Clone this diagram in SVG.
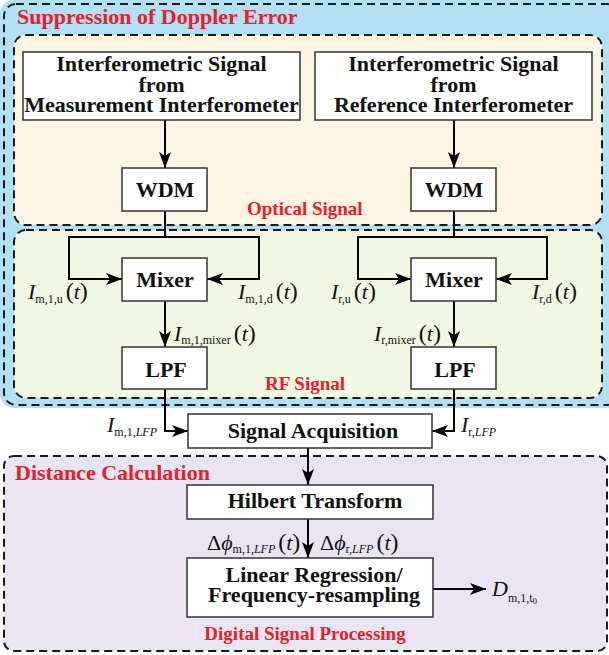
<svg xmlns="http://www.w3.org/2000/svg" width="609" height="655" viewBox="0 0 609 655">
<style>
.bx{fill:#fff;stroke:#333;stroke-width:1.5}
.dash{fill:none;stroke:#1a1a1a;stroke-width:2;stroke-dasharray:8 5}
.ln{fill:none;stroke:#000;stroke-width:2}
.ar{marker-end:url(#ah)}
.bt{font-family:"Liberation Serif","Times New Roman",serif;font-weight:bold;font-size:22px;text-anchor:middle;fill:#111}
.rt{font-family:"Liberation Serif","Times New Roman",serif;font-weight:bold;font-size:19px;fill:#e8202a}
.m{font-family:"Liberation Serif","Times New Roman",serif;font-size:22px;fill:#111}
.it{font-style:italic}
.s{font-size:12px}
.ss{font-size:9px}
.p{font-size:24px}
</style>
<defs>
<marker id="ah" viewBox="0 0 16 12" refX="16" refY="6" markerWidth="16" markerHeight="12" markerUnits="userSpaceOnUse" orient="auto">
<path d="M0,0 L16,6 L0,12 L4,6 z" fill="#000"/>
</marker>
</defs>

<g id="regions">
<rect x="0" y="0" width="625" height="408" rx="14" fill="#b2e0f4"/>
<rect x="4" y="4" width="615" height="401" rx="12" class="dash"/>
<rect x="14" y="35" width="588" height="190" rx="12" fill="#fdf4e3"/>
<rect x="14" y="35" width="588" height="190" rx="12" class="dash"/>
<rect x="14" y="230" width="588" height="168" rx="12" fill="#f3f8e5"/>
<rect x="14" y="230" width="588" height="168" rx="12" class="dash"/>
<rect x="4" y="456" width="603" height="195" rx="10" fill="#ebe4f2"/>
<rect x="4" y="456" width="603" height="195" rx="10" class="dash"/>
<text class="rt" x="17" y="24" style="font-size:22px">Suppression of Doppler Error</text>
<text class="rt" x="247" y="215">Optical Signal</text>
<text class="rt" x="265" y="390">RF Signal</text>
<text class="rt" x="15" y="480" style="font-size:22px">Distance Calculation</text>
<text class="rt" x="305" y="640" text-anchor="middle">Digital Signal Processing</text>
</g>

<g id="connectors">
<line class="ln ar" x1="165" y1="120" x2="165" y2="168"/>
<line class="ln ar" x1="454" y1="120" x2="454" y2="168"/>
<line class="ln" x1="165" y1="211" x2="165" y2="237"/>
<polyline class="ln ar" points="165,237 69,237 69,279 122,279"/>
<polyline class="ln ar" points="165,237 259,237 259,279 207,279"/>
<line class="ln" x1="454" y1="211" x2="454" y2="237"/>
<polyline class="ln ar" points="454,237 358,237 358,279 411,279"/>
<polyline class="ln ar" points="454,237 547,237 547,279 496,279"/>
<line class="ln ar" x1="165" y1="301" x2="165" y2="347"/>
<line class="ln ar" x1="454" y1="301" x2="454" y2="347"/>
<polyline class="ln ar" points="165,389 165,431 188,431"/>
<polyline class="ln ar" points="454,389 454,431 432,431"/>
<line class="ln ar" x1="308" y1="448" x2="308" y2="485"/>
<line class="ln ar" x1="308" y1="519" x2="308" y2="558"/>
<line class="ln ar" x1="432" y1="589" x2="486" y2="589"/>
</g>

<g id="src-meas">
<rect class="bx" x="23" y="52" width="277" height="68"/>
<text class="bt" x="161.5" y="71">Interferometric Signal</text>
<text class="bt" x="161.5" y="92">from</text>
<text class="bt" x="161.5" y="112">Measurement Interferometer</text>
</g>
<g id="src-ref">
<rect class="bx" x="315" y="52" width="277" height="68"/>
<text class="bt" x="453.5" y="71">Interferometric Signal</text>
<text class="bt" x="453.5" y="92">from</text>
<text class="bt" x="453.5" y="112">Reference Interferometer</text>
</g>
<g id="wdm-m">
<rect class="bx" x="122" y="168" width="85" height="43"/>
<text class="bt" x="165" y="197">WDM</text>
</g>
<g id="wdm-r">
<rect class="bx" x="411" y="168" width="85" height="43"/>
<text class="bt" x="454" y="197">WDM</text>
</g>
<g id="mixer-m">
<rect class="bx" x="122" y="258" width="85" height="43"/>
<text class="bt" x="165" y="287">Mixer</text>
</g>
<g id="mixer-r">
<rect class="bx" x="411" y="258" width="85" height="43"/>
<text class="bt" x="454" y="287">Mixer</text>
</g>
<g id="lpf-m">
<rect class="bx" x="122" y="347" width="85" height="42"/>
<text class="bt" x="166" y="377">LPF</text>
</g>
<g id="lpf-r">
<rect class="bx" x="411" y="347" width="85" height="42"/>
<text class="bt" x="455" y="377">LPF</text>
</g>
<g id="acq">
<rect class="bx" x="188" y="414" width="244" height="34"/>
<text class="bt" x="313" y="438">Signal Acquisition</text>
</g>
<g id="hilbert">
<rect class="bx" x="187" y="485" width="246" height="34"/>
<text class="bt" x="315" y="508">Hilbert Transform</text>
</g>
<g id="linreg">
<rect class="bx" x="187" y="558" width="246" height="59"/>
<text class="bt" x="314" y="582">Linear Regression/</text>
<text class="bt" x="314" y="602">Frequency-resampling</text>
</g>

<g id="labels">
<text class="m" x="28" y="299"><tspan class="it">I</tspan><tspan class="s" dy="4">m,1,u</tspan><tspan class="p" dy="-4" dx="3">(</tspan><tspan class="it">t</tspan><tspan class="p">)</tspan></text>
<text class="m" x="238" y="299"><tspan class="it">I</tspan><tspan class="s" dy="4">m,1,d</tspan><tspan class="p" dy="-4" dx="3">(</tspan><tspan class="it">t</tspan><tspan class="p">)</tspan></text>
<text class="m" x="331" y="299"><tspan class="it">I</tspan><tspan class="s" dy="4">r,u</tspan><tspan class="p" dy="-4" dx="3">(</tspan><tspan class="it">t</tspan><tspan class="p">)</tspan></text>
<text class="m" x="532" y="299"><tspan class="it">I</tspan><tspan class="s" dy="4">r,d</tspan><tspan class="p" dy="-4" dx="3">(</tspan><tspan class="it">t</tspan><tspan class="p">)</tspan></text>
<text class="m" x="174" y="341"><tspan class="it">I</tspan><tspan class="s" dy="3">m,1,mixer</tspan><tspan class="p" dy="-3" dx="3">(</tspan><tspan class="it">t</tspan><tspan class="p">)</tspan></text>
<text class="m" x="374" y="341"><tspan class="it">I</tspan><tspan class="s" dy="3">r,mixer</tspan><tspan class="p" dy="-3" dx="3">(</tspan><tspan class="it">t</tspan><tspan class="p">)</tspan></text>
<text class="m" x="107" y="432"><tspan class="it">I</tspan><tspan class="s" dy="4">m,1,</tspan><tspan class="s it">LFP</tspan></text>
<text class="m" x="461" y="432"><tspan class="it">I</tspan><tspan class="s" dy="4">r,</tspan><tspan class="s it">LFP</tspan></text>
<text class="m" x="207" y="550">Δ<tspan class="it">ϕ</tspan><tspan class="s" dy="3">m,1,</tspan><tspan class="s it">LFP</tspan><tspan class="p" dy="-3" dx="3">(</tspan><tspan class="it">t</tspan><tspan class="p">)</tspan></text>
<text class="m" x="320" y="550">Δ<tspan class="it">ϕ</tspan><tspan class="s" dy="3">r,</tspan><tspan class="s it">LFP</tspan><tspan class="p" dy="-3" dx="3">(</tspan><tspan class="it">t</tspan><tspan class="p">)</tspan></text>
<text class="m" x="492" y="596"><tspan class="it">D</tspan><tspan class="s" dy="6">m,1,t</tspan><tspan class="ss" dy="2">0</tspan></text>
</g>
</svg>
